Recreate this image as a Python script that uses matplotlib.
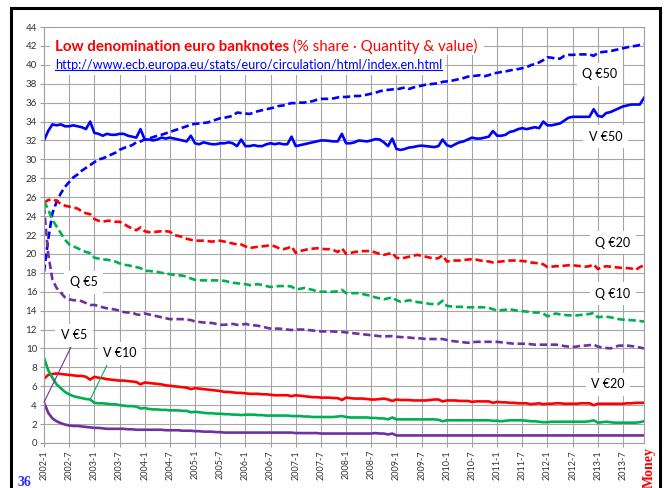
import matplotlib
matplotlib.use("Agg")
import matplotlib.pyplot as plt
from matplotlib.patches import Rectangle
from matplotlib.lines import Line2D

# monthly categories 2002-1 .. 2013-12
months = [f"{y}-{m}" for y in range(2002, 2014) for m in range(1, 13)]

# % share by value (V) and by quantity (Q), one row per year
v50 = [32.0, 33.0, 33.7, 33.6, 33.7, 33.5, 33.5, 33.6, 33.5, 33.4, 33.2, 34.0,
       32.8, 32.7, 32.5, 32.7, 32.6, 32.6, 32.7, 32.7, 32.5, 32.4, 32.3, 33.2,
       32.1, 32.1, 32.0, 32.1, 32.3, 32.2, 32.3, 32.2, 32.1, 32.0, 31.9, 32.5,
       31.7, 31.6, 31.8, 31.7, 31.6, 31.6, 31.7, 31.7, 31.8, 31.7, 31.4, 32.1,
       31.4, 31.4, 31.5, 31.4, 31.4, 31.6, 31.7, 31.6, 31.7, 31.6, 31.6, 32.4,
       31.4, 31.5, 31.6, 31.7, 31.8, 31.9, 32.0, 32.0, 31.95, 31.9, 31.9, 32.7,
       31.7, 31.7, 31.8, 32.0, 31.95, 31.9, 32.0, 32.15, 32.1, 31.8, 31.4, 32.2,
       31.1, 31.0, 31.1, 31.25, 31.3, 31.4, 31.45, 31.4, 31.35, 31.3, 31.4, 32.1,
       31.5, 31.35, 31.6, 31.8, 31.9, 32.1, 32.3, 32.2, 32.2, 32.3, 32.4, 33.0,
       32.5, 32.5, 32.6, 32.9, 33.0, 33.2, 33.3, 33.2, 33.3, 33.4, 33.3, 34.0,
       33.6, 33.6, 33.7, 33.8, 34.1, 34.4, 34.5, 34.5, 34.5, 34.5, 34.5, 35.3,
       34.6, 34.5, 34.9, 35.0, 35.2, 35.4, 35.6, 35.7, 35.8, 35.8, 35.8, 36.5]

q50 = [18.1, 21.5, 24.3, 25.5, 26.4, 27.1, 27.6, 28.1, 28.4, 28.8, 29.1, 29.4,
       29.7, 30.0, 30.1, 30.3, 30.5, 30.7, 31.0, 31.2, 31.35, 31.5, 31.8, 31.9,
       32.1, 32.2, 32.35, 32.5, 32.6, 32.75, 32.9, 33.05, 33.2, 33.35, 33.5, 33.7,
       33.75, 33.8, 33.85, 33.9, 34.05, 34.2, 34.35, 34.4, 34.5, 34.6, 34.95, 34.9,
       34.85, 34.8, 34.95, 35.1, 35.2, 35.3, 35.4, 35.5, 35.65, 35.7, 35.85, 35.95,
       35.95, 36.0, 36.0, 36.1, 36.15, 36.3, 36.4, 36.4, 36.4, 36.45, 36.55, 36.6,
       36.6, 36.65, 36.7, 36.7, 36.75, 36.85, 36.95, 37.05, 37.2, 37.3, 37.35, 37.4,
       37.4, 37.5, 37.6, 37.45, 37.6, 37.7, 37.8, 37.9, 37.95, 38.0, 38.05, 38.2,
       38.25, 38.3, 38.4, 38.5, 38.6, 38.75, 38.8, 38.85, 38.9, 38.8, 38.9, 39.1,
       39.15, 39.25, 39.3, 39.4, 39.5, 39.55, 39.65, 39.75, 39.95, 40.1, 40.25, 40.5,
       40.8, 40.75, 40.65, 40.65, 40.95, 41.05, 41.05, 41.1, 41.1, 41.1, 41.1, 40.95,
       41.25, 41.35, 41.4, 41.45, 41.55, 41.65, 41.75, 41.85, 41.95, 42.0, 42.1, 42.2]

q20 = [25.4, 25.7, 25.8, 25.6, 25.3, 25.1, 25.0, 24.9, 24.8, 24.5, 24.3, 24.2,
       23.7, 23.5, 23.4, 23.5, 23.5, 23.4, 23.4, 23.2, 22.9, 22.7, 22.5, 22.8,
       22.4, 22.3, 22.3, 22.35, 22.4, 22.4, 22.35, 22.0, 21.9, 21.8, 21.6, 21.5,
       21.4, 21.4, 21.4, 21.35, 21.3, 21.35, 21.4, 21.3, 21.2, 21.1, 21.0, 21.0,
       20.8, 20.6, 20.7, 20.75, 20.8, 20.85, 20.9, 20.8, 20.6, 20.5, 20.6, 20.8,
       20.1, 20.3, 20.4, 20.5, 20.55, 20.6, 20.55, 20.5, 20.5, 20.4, 20.2, 20.6,
       20.0, 20.1, 20.2, 20.25, 20.3, 20.3, 20.3, 20.15, 20.0, 19.9, 20.0, 20.1,
       19.6, 19.5, 19.6, 19.7, 19.8, 19.9, 19.8, 19.7, 19.6, 19.5, 19.55, 19.85,
       19.2, 19.25, 19.3, 19.3, 19.35, 19.4, 19.45, 19.4, 19.3, 19.25, 19.2, 19.1,
       19.15, 19.2, 19.25, 19.3, 19.3, 19.3, 19.25, 19.2, 19.1, 19.05, 19.0, 18.9,
       18.6, 18.65, 18.7, 18.7, 18.75, 18.8, 18.8, 18.75, 18.7, 18.65, 18.7, 18.9,
       18.4, 18.6, 18.7, 18.65, 18.6, 18.55, 18.5, 18.5, 18.45, 18.3, 18.6, 18.8]

q10 = [25.6, 24.7, 23.6, 22.9, 22.2, 21.5, 21.0, 20.8, 20.6, 20.4, 20.2, 20.1,
       19.6, 19.5, 19.4, 19.4, 19.3, 19.2, 19.0, 18.85, 18.8, 18.7, 18.6, 18.5,
       18.2, 18.2, 18.15, 18.1, 18.0, 17.95, 17.85, 17.8, 17.75, 17.7, 17.6, 17.4,
       17.25, 17.2, 17.2, 17.2, 17.2, 17.2, 17.2, 17.15, 17.05, 16.95, 16.9, 16.85,
       16.8, 16.7, 16.75, 16.8, 16.7, 16.6, 16.5, 16.55, 16.6, 16.6, 16.6, 16.55,
       16.25, 16.3, 16.4, 16.3, 16.2, 16.05, 16.0, 16.0, 16.0, 16.0, 16.05, 16.2,
       15.85, 15.85, 15.85, 15.85, 15.75, 15.65, 15.55, 15.4, 15.3, 15.2, 15.3, 15.4,
       15.1, 14.95, 15.0, 15.1, 15.0, 14.9, 14.85, 14.8, 14.7, 14.7, 14.7, 15.05,
       14.5, 14.45, 14.4, 14.4, 14.4, 14.35, 14.35, 14.35, 14.35, 14.35, 14.3, 14.15,
       14.0, 14.05, 14.1, 14.15, 14.05, 14.0, 13.95, 13.9, 13.85, 13.8, 13.8, 13.7,
       13.4, 13.55, 13.7, 13.6, 13.55, 13.5, 13.5, 13.5, 13.55, 13.6, 13.65, 13.75,
       13.3, 13.35, 13.35, 13.3, 13.2, 13.1, 13.05, 13.0, 13.0, 12.95, 12.9, 12.85]

q5 = [25.0, 20.0, 17.3, 16.4, 15.9, 15.4, 15.2, 15.1, 15.1, 15.0, 14.8, 14.6,
      14.6, 14.5, 14.35, 14.25, 14.2, 14.1, 14.0, 13.85, 13.8, 13.8, 13.6, 13.55,
      13.7, 13.6, 13.5, 13.4, 13.3, 13.2, 13.1, 13.1, 13.1, 13.1, 13.05, 13.0,
      12.85, 12.8, 12.75, 12.7, 12.7, 12.6, 12.5, 12.5, 12.55, 12.6, 12.5, 12.5,
      12.6, 12.5, 12.45, 12.4, 12.3, 12.2, 12.1, 12.1, 12.1, 12.05, 12.0, 11.95,
      12.0, 12.0, 12.0, 11.95, 11.9, 11.85, 11.8, 11.8, 11.8, 11.8, 11.75, 11.75,
      11.7, 11.65, 11.6, 11.55, 11.5, 11.45, 11.4, 11.35, 11.3, 11.25, 11.3, 11.3,
      11.25, 11.2, 11.2, 11.15, 11.1, 11.1, 11.05, 11.0, 11.0, 11.0, 11.0, 11.0,
      10.9, 10.8, 10.75, 10.7, 10.65, 10.6, 10.65, 10.7, 10.7, 10.7, 10.7, 10.7,
      10.7, 10.65, 10.6, 10.55, 10.5, 10.5, 10.5, 10.5, 10.45, 10.4, 10.4, 10.4,
      10.4, 10.4, 10.4, 10.35, 10.25, 10.2, 10.15, 10.2, 10.3, 10.3, 10.35, 10.4,
      10.2, 10.1, 10.05, 10.0, 10.15, 10.3, 10.3, 10.3, 10.25, 10.2, 10.1, 10.0]

v20 = [6.8, 7.2, 7.3, 7.35, 7.3, 7.25, 7.2, 7.15, 7.1, 7.1, 7.0, 6.7,
       7.0, 6.9, 6.85, 6.75, 6.7, 6.65, 6.6, 6.6, 6.55, 6.5, 6.45, 6.2,
       6.4, 6.35, 6.3, 6.25, 6.2, 6.1, 6.05, 6.0, 5.95, 5.9, 5.85, 5.7,
       5.8, 5.75, 5.7, 5.65, 5.6, 5.55, 5.5, 5.4, 5.4, 5.35, 5.3, 5.3,
       5.25, 5.2, 5.2, 5.2, 5.15, 5.15, 5.1, 5.05, 5.05, 5.05, 5.05, 4.95,
       5.05, 5.0, 4.95, 4.9, 4.85, 4.85, 4.8, 4.8, 4.8, 4.75, 4.75, 4.55,
       4.8, 4.75, 4.7, 4.7, 4.7, 4.65, 4.6, 4.6, 4.65, 4.7, 4.6, 4.45,
       4.6, 4.55, 4.55, 4.55, 4.5, 4.5, 4.5, 4.5, 4.55, 4.6, 4.6, 4.4,
       4.5, 4.5, 4.5, 4.45, 4.45, 4.45, 4.35, 4.4, 4.4, 4.4, 4.4, 4.25,
       4.35, 4.3, 4.3, 4.25, 4.25, 4.2, 4.2, 4.2, 4.1, 4.15, 4.2, 4.1,
       4.15, 4.15, 4.2, 4.2, 4.15, 4.15, 4.15, 4.15, 4.2, 4.2, 4.2, 4.0,
       4.15, 4.15, 4.15, 4.15, 4.15, 4.15, 4.15, 4.2, 4.2, 4.25, 4.25, 4.25]

v10 = [9.0, 7.7, 6.9, 6.2, 5.8, 5.4, 5.15, 4.95, 4.85, 4.75, 4.65, 4.6,
       4.25, 4.2, 4.2, 4.15, 4.1, 4.1, 4.0, 3.95, 3.9, 3.9, 3.85, 3.65,
       3.7, 3.6, 3.55, 3.55, 3.5, 3.5, 3.45, 3.45, 3.45, 3.4, 3.4, 3.25,
       3.3, 3.25, 3.2, 3.15, 3.15, 3.1, 3.1, 3.05, 3.05, 3.0, 3.0, 2.95,
       3.0, 3.0, 3.0, 2.95, 2.95, 2.9, 2.9, 2.9, 2.9, 2.9, 2.9, 2.85,
       2.85, 2.85, 2.8, 2.8, 2.75, 2.75, 2.75, 2.75, 2.75, 2.75, 2.8, 2.85,
       2.75, 2.7, 2.7, 2.7, 2.7, 2.7, 2.65, 2.65, 2.6, 2.6, 2.5, 2.7,
       2.5, 2.5, 2.5, 2.5, 2.5, 2.5, 2.5, 2.5, 2.5, 2.5, 2.45, 2.3,
       2.4, 2.4, 2.4, 2.4, 2.4, 2.4, 2.4, 2.4, 2.4, 2.4, 2.4, 2.35,
       2.35, 2.3, 2.35, 2.4, 2.4, 2.4, 2.4, 2.35, 2.3, 2.3, 2.25, 2.2,
       2.2, 2.25, 2.25, 2.25, 2.25, 2.25, 2.25, 2.25, 2.25, 2.25, 2.3, 2.4,
       2.15, 2.2, 2.25, 2.2, 2.15, 2.15, 2.15, 2.15, 2.15, 2.15, 2.2, 2.3]

v5 = [4.3, 3.2, 2.6, 2.3, 2.1, 1.95, 1.85, 1.8, 1.8, 1.75, 1.7, 1.65,
      1.6, 1.6, 1.55, 1.5, 1.5, 1.5, 1.5, 1.5, 1.45, 1.45, 1.4, 1.4,
      1.4, 1.4, 1.4, 1.4, 1.4, 1.35, 1.35, 1.35, 1.35, 1.3, 1.3, 1.3,
      1.25, 1.25, 1.2, 1.2, 1.2, 1.15, 1.15, 1.1, 1.1, 1.1, 1.1, 1.1,
      1.1, 1.1, 1.1, 1.1, 1.1, 1.1, 1.1, 1.1, 1.1, 1.1, 1.1, 1.1,
      1.05, 1.05, 1.05, 1.05, 1.05, 1.05, 1.0, 1.0, 1.0, 1.0, 1.0, 1.0,
      1.0, 1.0, 1.0, 1.0, 1.0, 1.0, 1.0, 1.05, 1.0, 1.0, 0.9, 1.0,
      0.8, 0.8, 0.8, 0.8, 0.8, 0.8, 0.8, 0.8, 0.8, 0.8, 0.8, 0.8,
      0.8, 0.8, 0.8, 0.8, 0.8, 0.8, 0.8, 0.8, 0.8, 0.8, 0.8, 0.8,
      0.8, 0.8, 0.8, 0.8, 0.8, 0.8, 0.8, 0.8, 0.8, 0.8, 0.8, 0.8,
      0.8, 0.8, 0.8, 0.8, 0.8, 0.8, 0.8, 0.8, 0.8, 0.8, 0.8, 0.8,
      0.8, 0.8, 0.8, 0.8, 0.8, 0.8, 0.8, 0.8, 0.8, 0.8, 0.8, 0.8]

BLUE = "#0000ff"
RED = "#ff0000"
GREEN = "#00b050"
PURPLE = "#7030a0"

plt.rcParams['font.family'] = ['Lato', 'DejaVu Sans']

fig = plt.figure(figsize=(6.67, 4.88), dpi=100)
ax = fig.add_axes([44 / 667, 1 - 443 / 488, 600 / 667, 416 / 488])
x = list(range(len(months)))

dash = (0, (2.8, 1.4))
lw = 1.9
ax.plot(x, q50, color=BLUE, lw=lw, ls=dash, dash_capstyle='butt')
ax.plot(x, v50, color=BLUE, lw=lw)
ax.plot(x, q20, color=RED, lw=lw, ls=dash, dash_capstyle='butt')
ax.plot(x, v20, color=RED, lw=lw)
ax.plot(x, q10, color=GREEN, lw=lw, ls=dash, dash_capstyle='butt')
ax.plot(x, v10, color=GREEN, lw=lw)
ax.plot(x, q5, color=PURPLE, lw=lw, ls=dash, dash_capstyle='butt')
ax.plot(x, v5, color=PURPLE, lw=lw)

ax.set_xlim(0, len(months) - 1)
ax.set_ylim(0, 44)
ax.set_yticks(range(0, 45, 2))
ax.set_xticks(x[::6])
ax.set_xticklabels(months[::6], rotation=90)
ax.tick_params(axis='y', labelsize=7, length=3, width=0.8, color='#a0a0a0',
               pad=2, labelcolor='#333333')
ax.tick_params(axis='x', labelsize=6.5, length=3, width=0.8, color='#a0a0a0',
               pad=2, labelcolor='#333333')
ax.grid(True, color='#a6a6a6', lw=0.8)
ax.set_axisbelow(True)
for s in ax.spines.values():
    s.set_color('#a0a0a0')
    s.set_linewidth(0.8)

# series labels
box = dict(boxstyle='square,pad=0.45', fc='white', ec='none')
lab = dict(fontsize=9, color='black', ha='center', va='center', bbox=box, zorder=4)
ax.text(132.5, 39.0, "Q €50", **lab)
ax.text(133.9, 32.4, "V €50", **lab)
ax.text(135.6, 21.2, "Q €20", **lab)
ax.text(135.6, 15.8, "Q €10", **lab)
ax.text(9.5, 17.0, "Q €5", **lab)
ax.text(134.4, 6.2, "V €20", **lab)
ax.annotate("V €5", xy=(0, v5[0]), xytext=(7.1, 11.4), **lab,
            arrowprops=dict(arrowstyle='-', color=PURPLE, lw=0.8,
                            shrinkA=0, shrinkB=0, relpos=(0.5, 0)))
ax.annotate("V €10", xy=(11, v10[11]), xytext=(18.1, 9.5), **lab,
            arrowprops=dict(arrowstyle='-', color=GREEN, lw=0.8,
                            shrinkA=0, shrinkB=0, relpos=(0.2, 0)))

# title text box
t1 = ax.text(2.6, 41.5, "Low denomination euro banknotes", color=RED,
             fontweight='bold', fontsize=10.9, ha='left', va='baseline', zorder=5)
t2 = ax.annotate(" (% share · Quantity & value)", xy=(1, 0), xycoords=t1,
                 color=RED, fontsize=10.9, ha='left', va='bottom', zorder=5)
url = ax.text(2.6, 39.6, "http://www.ecb.europa.eu/stats/euro/circulation/html/index.en.html",
              color=BLUE, fontsize=9.1, ha='left', va='baseline', zorder=5)

fig.canvas.draw()
r = fig.canvas.get_renderer()
b1 = t1.get_window_extent(r)
b2 = t2.get_window_extent(r)
bu = url.get_window_extent(r)
axb = ax.get_window_extent(r)
W, H = fig.bbox.width, fig.bbox.height

# white backgrounds hiding the grid behind the title and the link
tx0 = b1.x0 - 5
tx1 = b2.x1 + 7
ty0 = min(b1.y0, b2.y0) - 1
ax.add_patch(Rectangle((tx0 / W, ty0 / H), (tx1 - tx0) / W, (axb.y1 - ty0) / H,
                       transform=fig.transFigure, fc='white', ec='none',
                       zorder=1, clip_on=False))
ux1 = bu.x1 + 3
uy0 = bu.y0 - 4
ax.add_patch(Rectangle((tx0 / W, uy0 / H), (ux1 - tx0) / W, (ty0 - uy0) / H,
                       transform=fig.transFigure, fc='white', ec='none',
                       zorder=1, clip_on=False))
# underline of the link
base = ax.transData.transform((2.6, 39.6))[1] - 1.5
ax.add_line(Line2D([bu.x0 / W, bu.x1 / W], [base / H, base / H],
                   transform=fig.transFigure, color=BLUE, lw=0.8, zorder=6,
                   clip_on=False))

# page decorations
fig.add_artist(Rectangle((11 / 667, -0.05), 649 / 667, 1.05 - 8 / 488,
                         transform=fig.transFigure, fill=False, ec='black', lw=2.2,
                         clip_on=False))
fig.text(24 / 667, 1 - 482 / 488, "36", color='#2a2aff', fontsize=10,
         fontweight='bold', family='Liberation Serif', ha='center', va='center')
fig.text(649 / 667, 1 - 467 / 488, "Money", color=RED, fontsize=10,
         fontweight='bold', family='Liberation Serif', rotation=90,
         ha='center', va='center')

fig.savefig("out.png", dpi=100)
